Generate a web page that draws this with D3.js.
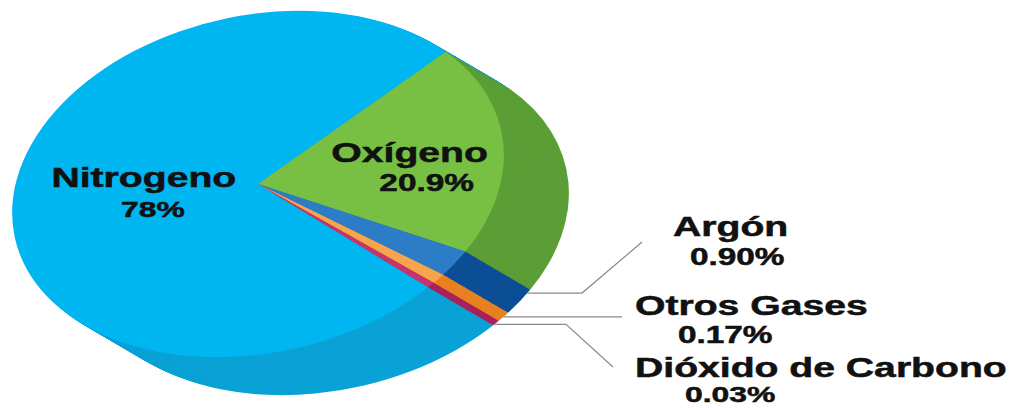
<!DOCTYPE html>
<html>
<head>
<meta charset="utf-8">
<script src="https://cdn.jsdelivr.net/npm/d3@7"></script>
<style>
  html, body { margin: 0; padding: 0; background: #ffffff; }
  svg { display: block; }
  text { font-family: "Liberation Sans", Arial, sans-serif; font-weight: bold; fill: #111111; stroke: #111111; stroke-width: 0.5; }
</style>
</head>
<body>
<script>
// Gases del aire
const categories = ["Nitrogeno", "Oxígeno", "Argón", "Otros Gases", "Dióxido de Carbono"];
const values = [78, 20.9, 0.90, 0.17, 0.03];
const valueLabels = ["78%", "20.9%", "0.90%", "0.17%", "0.03%"];
const drawnShare = [76.0, 20.2, 2.4, 0.9, 0.5];

const topColors = ["#00b6f0", "#77c043", "#2d7cc8", "#f6a54c", "#c4356b"];
const sideColors = ["#0aa2d6", "#5c9e36", "#0b4e95", "#e9801f", "#a9215a"];

const width = 1019, height = 408;

// pie geometry (image is stretched horizontally, top face tilted)
const cx = 258, cy = 184, R = 170;
const sx = 1.42, ea = 1.1, eb = 0.93, tilt = -45;
const depthX = 65, depthY = 38;

const svg = d3.select("body").append("svg")
    .attr("width", width)
    .attr("height", height);

const total = d3.sum(drawnShare);
const start = Math.PI / 2 - 2 * Math.PI * drawnShare[0] / total;

const pie = d3.pie()
    .sort(null)
    .value(function(d) { return d.share; })
    .startAngle(start)
    .endAngle(start + 2 * Math.PI);

const data = categories.map(function(c, i) {
    return { name: c, value: values[i], label: valueLabels[i], share: drawnShare[i], i: i };
});
const arcs = pie(data);

const arc = d3.arc().innerRadius(0).outerRadius(R);

function pieTransform(ox, oy) {
    return "translate(" + (cx + ox) + "," + (cy + oy) + ") scale(" + sx + ",1) rotate(" + tilt + ") scale(" + ea + "," + eb + ")";
}

// same maths as pieTransform, for placing labels and leader lines
function project(angle, r, ox, oy) {
    const X = r * Math.sin(angle) * ea, Y = -r * Math.cos(angle) * eb;
    const a = tilt * Math.PI / 180;
    const x = Math.cos(a) * X - Math.sin(a) * Y;
    const y = Math.sin(a) * X + Math.cos(a) * Y;
    return [cx + ox + sx * x, cy + oy + y];
}

// side of the pie: stacked copies, deepest first
const steps = 48;
for (let s = steps; s >= 1; s--) {
    const t = s / steps;
    svg.append("g")
        .attr("transform", pieTransform(depthX * t, depthY * t))
        .selectAll("path")
        .data(arcs)
        .enter().append("path")
        .attr("d", arc)
        .attr("fill", function(d) { return sideColors[d.data.i]; });
}

// top face
svg.append("g")
    .attr("class", "top")
    .attr("transform", pieTransform(0, 0))
    .selectAll("path")
    .data(arcs)
    .enter().append("path")
    .attr("d", arc)
    .attr("fill", function(d) { return topColors[d.data.i]; });

// labels inside the big slices
const inside = {
    "Nitrogeno": { r: 0.465, nameDy: -6, nameSize: 27, valDx: 9, valDy: 24, valSize: 22 },
    "Oxígeno": { r: 0.618, nameDy: 3, nameSize: 27, valDx: 17, valDy: 32, valSize: 23 }
};

arcs.filter(function(d) { return inside[d.data.name]; }).forEach(function(d) {
    const L = inside[d.data.name];
    const mid = (d.startAngle + d.endAngle) / 2;
    const p = project(mid, R * L.r, 0, 0);
    svg.append("text")
        .attr("transform", "translate(" + p[0] + "," + (p[1] + L.nameDy) + ") scale(1.45,1)")
        .attr("text-anchor", "middle")
        .attr("font-size", L.nameSize)
        .text(d.data.name);
    svg.append("text")
        .attr("transform", "translate(" + (p[0] + L.valDx) + "," + (p[1] + L.valDy) + ") scale(1.45,1)")
        .attr("text-anchor", "middle")
        .attr("font-size", L.valSize)
        .text(d.data.label);
});

// callouts for the small slices (at = where along the slice the leader starts)
const callouts = {
    "Argón": { at: 0.15, elbowX: 582, endX: 642, endY: 242, nameX: 673, nameY: 236, valX: 690, valY: 265, valSize: 23 },
    "Otros Gases": { at: 0.5, elbowX: 622, endX: 622, endY: null, nameX: 635, nameY: 315, valX: 678, valY: 343, valSize: 23 },
    "Dióxido de Carbono": { at: 0.8, elbowX: 566, endX: 613, endY: 367, nameX: 635, nameY: 377, valX: 685, valY: 402, valSize: 22 }
};

arcs.filter(function(d) { return callouts[d.data.name]; }).forEach(function(d) {
    const C = callouts[d.data.name];
    const ang = d.startAngle + (d.endAngle - d.startAngle) * C.at;
    const p = project(ang, R, depthX, depthY);
    const pts = [p, [C.elbowX, p[1]]];
    if (C.endY !== null) pts.push([C.endX, C.endY]);
    svg.append("path")
        .attr("d", d3.line()(pts))
        .attr("fill", "none")
        .attr("stroke", "#8a8a8a")
        .attr("stroke-width", 1.2);
    svg.append("text")
        .attr("transform", "translate(" + C.nameX + "," + C.nameY + ") scale(1.45,1)")
        .attr("font-size", 27)
        .text(d.data.name);
    svg.append("text")
        .attr("transform", "translate(" + C.valX + "," + C.valY + ") scale(1.45,1)")
        .attr("font-size", C.valSize)
        .text(d.data.label);
});
</script>
</body>
</html>
